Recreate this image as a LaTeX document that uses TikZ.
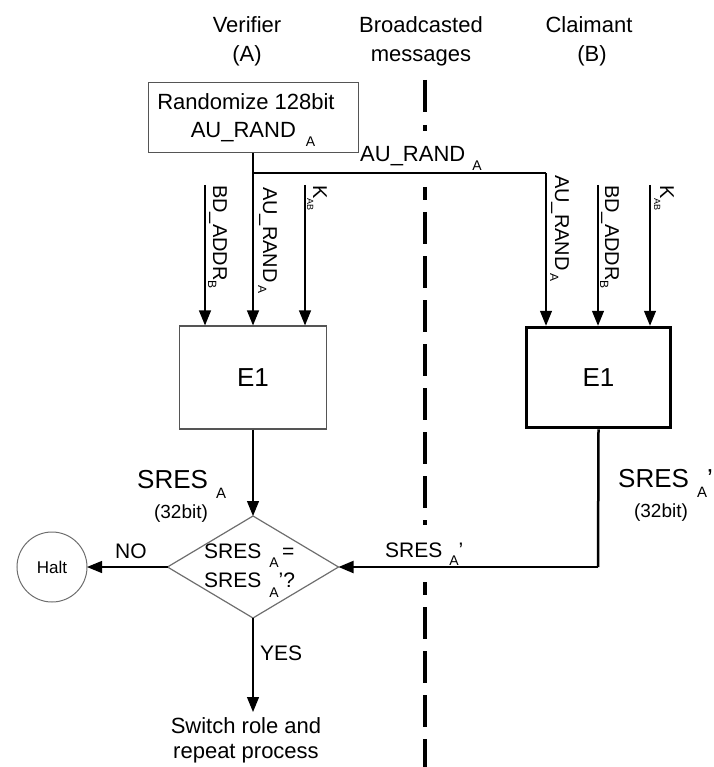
\documentclass[tikz,border=0pt]{standalone}
\usepackage{fontspec}
\setmainfont{Liberation Sans}
\usetikzlibrary{arrows.meta,shapes.geometric}
\newcommand\subx[4]{\hspace{#1}\raisebox{-#2}{\fontsize{#3}{#3}\selectfont #4}}
\newcommand\fs[1]{\fontsize{#1}{#1}\selectfont}
\definecolor{boxgray}{RGB}{85,85,85}
\definecolor{diagray}{RGB}{110,110,110}
\begin{document}
\begin{tikzpicture}[x=1pt,y=-1pt,
  txt/.style={inner sep=0pt, anchor=base, font=\fs{22}},
  txtw/.style={inner sep=0pt, anchor=base west, font=\fs{22}},
  rot/.style={rotate=-90, anchor=base west, inner sep=0pt, font=\fs{20}},
  arr/.style={line width=1.2pt, -{Triangle[length=15pt,width=12pt]}},
  cline/.style={line width=4pt}]
\useasboundingbox (0,0) rectangle (713,767);

% headers
\node[txt] (hv1) at (247,33) {Verifier};
\node[txt] (hv2) at (247,62) {(A)};
\node[txt] (hb1) at (421,33) {Broadcasted};
\node[txt] (hb2) at (421,62) {messages};
\node[txt] (hc1) at (589,33) {Claimant};
\node[txt] (hc2) at (592,62) {(B)};

% centre line
\coordinate (cl1a) at (425,80);
\coordinate (cl1b) at (425,131);
\coordinate (cl2a) at (425,187);
\coordinate (cl2b) at (425,525);
\coordinate (cl3a) at (425,582);
\coordinate (cl3b) at (425,767);
\draw[cline, dash pattern=on 32pt off 13pt on 6pt off 20pt] (cl1a) -- (cl1b);
\draw[cline, dash pattern=on 32pt off 12pt, dash phase=19pt] (cl2a) -- (cl2b);
\draw[cline, dash pattern=on 32pt off 12pt, dash phase=19pt] (cl3a) -- (cl3b);

% randomize box
\node[draw=boxgray, line width=1pt, minimum width=210pt, minimum height=70pt, inner sep=0pt] (rand) at (253,118) {};
\node[txt] (rt1) at (246,110) {Randomize 128bit};
\node[txt] (rt2) at (253,138) {AU\_RAND\subx{10pt}{9pt}{14}{A}};

% E1 boxes
\node[draw=boxgray, line width=1.2pt, minimum width=147pt, minimum height=103pt, inner sep=0pt, font=\fs{26}] (e1l) at (253,377.5) {E1};
\node[draw=black, line width=3.5pt, minimum width=144pt, minimum height=100pt, inner sep=0pt, font=\fs{26}] (e1r) at (598.5,377.5) {E1};

% diamond and halt
\node[diamond, draw=diagray, line width=1.2pt, minimum width=171pt, minimum height=102pt, inner sep=0pt, outer sep=0pt] (dia) at (253,567) {};
\node[txtw, font=\fs{21}] (dt1) at (204,558) {SRES\subx{8pt}{9pt}{14}{A}\,=};
\node[txtw, font=\fs{21}] (dt2) at (204,587) {SRES\subx{8pt}{10pt}{14}{A}'?};
\node[circle, draw=diagray, line width=1pt, minimum size=70pt, inner sep=0pt, outer sep=0pt, font=\fs{17}] (halt) at (52,567) {Halt};

% top broadcast line
\coordinate (j1) at (253,173);
\coordinate (j2) at (546,173);
\draw[line width=1.2pt] (rand.south) -- (j1);
\draw[line width=2pt] (j1) -- (j2);
\node[txtw] (toplab) at (360,162) {AU\_RAND\subx{7pt}{9pt}{14}{A}};

% input arrows
\coordinate (sbl) at (205,185);
\coordinate (skl) at (305,185);
\coordinate (sbr) at (598,185);
\coordinate (skr) at (650,185);
\draw[arr] (sbl) -- (sbl |- e1l.north);
\draw[arr] (j1) -- (j1 |- e1l.north);
\draw[arr] (skl) -- (skl |- e1l.north);
\draw[arr] (j2) -- (j2 |- e1r.north);
\draw[arr] (sbr) -- (sbr |- e1r.north);
\draw[arr] (skr) -- (skr |- e1r.north);
\node[rot] (lbd) at (213,185) {BD\_ADDR\subx{0pt}{5pt}{12}{B}};
\node[rot] (lau) at (263,187) {AU\_RAND\subx{3pt}{5pt}{12}{A}};
\node[rot] (lk) at (313,185) {K\subx{0pt}{6pt}{9}{AB}};
\node[rot] (rau) at (555,175) {AU\_RAND\subx{3pt}{5pt}{12}{A}};
\node[rot] (rbd) at (605,185) {BD\_ADDR\subx{0pt}{5pt}{12}{B}};
\node[rot] (rk) at (660,185) {K\subx{0pt}{6pt}{9}{AB}};

% outputs
\draw[arr] (e1l.south) -- (dia.north);
\node[txtw, font=\fs{26}] (sresl) at (137,488) {SRES\subx{8pt}{10pt}{15}{A}};
\node[txt, font=\fs{19}] (bitl) at (181,518) {(32bit)};

\coordinate (corner) at (598,567);
\draw[line width=2.5pt] (e1r.south) -- (corner);
\draw[line width=2pt, -{Triangle[length=15pt,width=12pt]}] (corner) -- (dia.east);
\node[txtw, font=\fs{26}] (sresr) at (618,487) {SRES\subx{8pt}{10pt}{15}{A}'};
\node[txt, font=\fs{19}] (bitr) at (661,517) {(32bit)};
\node[txtw, font=\fs{21}] (sresm) at (385,557) {SRES\subx{7pt}{8pt}{14}{A}'};

\draw[arr] (dia.west) -- (halt.east);
\node[txtw, font=\fs{21}] (no) at (115,558) {NO};

\coordinate (yesend) at (253,712);
\draw[arr] (dia.south) -- (yesend);
\node[txtw, font=\fs{21}] (yes) at (260,660) {YES};
\node[txt] (sw1) at (246,733) {Switch role and};
\node[txt] (sw2) at (246,758) {repeat process};
\end{tikzpicture}
\end{document}
